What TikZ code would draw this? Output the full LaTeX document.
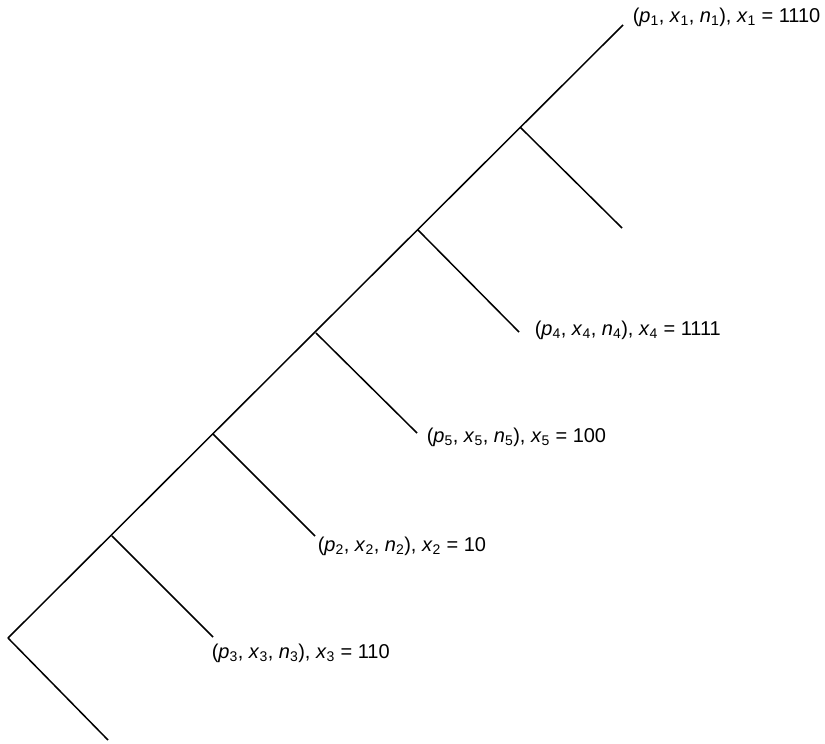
\documentclass[tikz,border=0pt]{standalone}
\usepackage{fontspec}
\setmainfont{Liberation Sans}
\newcommand{\vr}[2]{\textit{#1}\textsubscript{#2}}
\tikzset{lbl/.style={anchor=west,inner sep=0pt,font=\fontsize{20}{24}\selectfont}}
\begin{document}
\begin{tikzpicture}[x=1pt,y=-1pt,line width=1.5pt]
	\useasboundingbox (0,0) rectangle (825,744);
	\coordinate (r) at (8,638); \coordinate (j3) at (112,536); \coordinate (j2) at (213,434);
	\coordinate (j5) at (316,333); \coordinate (j4) at (418,230); \coordinate (j6) at (521,128);
	\coordinate (t) at (623,25);
	\coordinate (b0) at (108,740); \coordinate (b3) at (213,637); \coordinate (b2) at (315,536);
	\coordinate (b5) at (417,433); \coordinate (b4) at (519,332); \coordinate (b6) at (622,228);
	\draw (r)--(t) (r)--(b0) (j3)--(b3) (j2)--(b2) (j5)--(b5) (j4)--(b4) (j6)--(b6);
	\node[lbl] (n1) at (632,17) {(\vr p1, \vr x1, \vr n1), \vr x1 = 1110};
	\node[lbl] (n4) at (534,330) {(\vr p4, \vr x4, \vr n4), \vr x4 = 1111};
	\node[lbl] (n5) at (426,437) {(\vr p5, \vr x5, \vr n5), \vr x5 = 100};
	\node[lbl] (n2) at (317,546) {(\vr p2, \vr x2, \vr n2), \vr x2 = 10};
	\node[lbl] (n3) at (211,653) {(\vr p3, \vr x3, \vr n3), \vr x3 = 110};
\end{tikzpicture}
\end{document}
